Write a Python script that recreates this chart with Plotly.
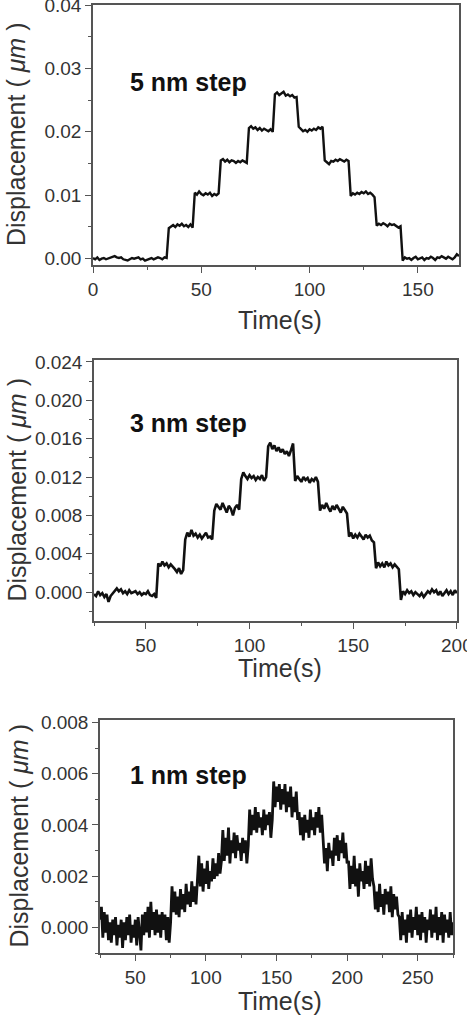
import numpy as np
import plotly.graph_objects as go

# ---------------- DATA ----------------
# Panel 1: 5 nm steps, sampled every 1 s from t = 0 s
p1_t_start = 0
p1_t_step = 1
p1_disp_um = [
    0.0001, -0.0001, 0.0002, -0.0002, 0.0000, 0.0001, -0.0001, 0.0000, 0.0002, 0.0003,
    0.0004, 0.0002, 0.0001, 0.0002, -0.0001, -0.0002, -0.0003, -0.0001, 0.0001, 0.0000,
    0.0001, 0.0002, -0.0001, 0.0000, -0.0003, -0.0002, 0.0000, 0.0001, -0.0001, 0.0000,
    0.0002, 0.0001, -0.0001, 0.0002, 0.0001,
    0.0048, 0.0051, 0.0053, 0.0050, 0.0054, 0.0052, 0.0055, 0.0051, 0.0053, 0.0050, 0.0054, 0.0049,
    0.0104, 0.0101, 0.0106, 0.0102, 0.0100, 0.0103, 0.0101, 0.0104, 0.0099, 0.0102, 0.0100, 0.0103,
    0.0155, 0.0157, 0.0153, 0.0156, 0.0152, 0.0155, 0.0154, 0.0151, 0.0154, 0.0152, 0.0155, 0.0153, 0.0151,
    0.0206, 0.0209, 0.0205, 0.0207, 0.0203, 0.0206, 0.0202, 0.0205, 0.0203, 0.0201, 0.0204, 0.0200,
    0.0259, 0.0262, 0.0258, 0.0261, 0.0263, 0.0257, 0.0259, 0.0256, 0.0258, 0.0254, 0.0255,
    0.0208, 0.0204, 0.0201, 0.0203, 0.0200, 0.0204, 0.0202, 0.0205, 0.0203, 0.0207, 0.0205, 0.0208,
    0.0155, 0.0152, 0.0149, 0.0154, 0.0153, 0.0156, 0.0154, 0.0157, 0.0155, 0.0153, 0.0156, 0.0154,
    0.0099, 0.0103, 0.0101, 0.0104, 0.0102, 0.0105, 0.0103, 0.0106, 0.0102, 0.0104, 0.0101, 0.0097,
    0.0052, 0.0055, 0.0053, 0.0056, 0.0054, 0.0051, 0.0055, 0.0053, 0.0054, 0.0052, 0.0049, 0.0051,
    -0.0003, 0.0002, 0.0000, 0.0001, -0.0002, 0.0001, 0.0003, -0.0001, 0.0000, 0.0002,
    -0.0002, 0.0001, 0.0000, 0.0003, 0.0001, -0.0002, 0.0002, 0.0001, 0.0004, 0.0002,
    0.0000, 0.0003, 0.0001, -0.0001, 0.0002, 0.0007, 0.0004,
]

# Panel 2: 3 nm steps, sampled every 1 s from t = 25 s
p2_t_start = 25
p2_t_step = 1
p2_disp_um = [
    -0.0002, -0.0004, 0.0001, -0.0003, -0.0001, -0.0005, -0.0002, -0.0010, -0.0004, -0.0001,
    0.0002, 0.0004, 0.0001, 0.0003, -0.0001, 0.0001, -0.0002, 0.0002, -0.0001, 0.0000,
    0.0001, -0.0002, 0.0000, -0.0003, -0.0001, -0.0002, 0.0001, -0.0003, -0.0004, -0.0002, -0.0006,
    0.0030, 0.0027, 0.0032, 0.0028, 0.0030, 0.0026, 0.0029, 0.0027, 0.0024, 0.0021, 0.0025, 0.0019, 0.0023,
    0.0055, 0.0062, 0.0058, 0.0065, 0.0059, 0.0061, 0.0057, 0.0060, 0.0056, 0.0059, 0.0062, 0.0057, 0.0058, 0.0055,
    0.0085, 0.0092, 0.0089, 0.0086, 0.0093, 0.0088, 0.0083, 0.0090, 0.0087, 0.0080, 0.0088, 0.0091, 0.0086,
    0.0118, 0.0125, 0.0121, 0.0118, 0.0122, 0.0119, 0.0121, 0.0117, 0.0120, 0.0118, 0.0122, 0.0116, 0.0120,
    0.0152, 0.0156, 0.0149, 0.0153, 0.0147, 0.0151, 0.0146, 0.0149, 0.0144, 0.0147, 0.0142, 0.0148, 0.0155,
    0.0116, 0.0121, 0.0118, 0.0115, 0.0120, 0.0117, 0.0119, 0.0114, 0.0118, 0.0116, 0.0120, 0.0115,
    0.0085, 0.0091, 0.0087, 0.0093, 0.0088, 0.0084, 0.0090, 0.0086, 0.0091, 0.0087, 0.0083, 0.0089, 0.0085, 0.0082,
    0.0058, 0.0062, 0.0056, 0.0060, 0.0057, 0.0061, 0.0058, 0.0055, 0.0060, 0.0057, 0.0059, 0.0054, 0.0052,
    0.0025, 0.0031, 0.0027, 0.0030, 0.0026, 0.0032, 0.0028, 0.0030, 0.0026, 0.0029, 0.0027, 0.0024,
    -0.0008, 0.0001, -0.0002, 0.0002, -0.0001, 0.0001, -0.0003, 0.0000, -0.0002, -0.0004,
    -0.0001, -0.0005, -0.0002, 0.0001, -0.0001, 0.0003, 0.0000, 0.0002, -0.0003, 0.0001,
    -0.0004, -0.0001, 0.0002, -0.0002, 0.0001, -0.0003, 0.0002, -0.0001,
]

# Panel 3: 1 nm steps, sampled every 1 s from t = 25 s
p3_t_start = 25
p3_t_step = 1
p3_disp_um = [
    0.0003, 0.0008, -0.0004, 0.0006, -0.0002, 0.0005, -0.0005, 0.0002, -0.0006, 0.0003,
    -0.0003, 0.0004, -0.0007, 0.0001, -0.0004, 0.0003, -0.0008, 0.0002, -0.0005, 0.0004,
    -0.0003, 0.0005, -0.0006, 0.0001, -0.0004, 0.0003, -0.0007, 0.0004, -0.0002, -0.0009,
    0.0005, -0.0003, 0.0006, -0.0002, 0.0008, -0.0004, 0.0010, -0.0001, 0.0006, -0.0003,
    0.0007, -0.0002, 0.0005, -0.0004, 0.0006, -0.0001, 0.0005, -0.0005, 0.0004, -0.0006, 0.0002,
    0.0016, 0.0006, 0.0014, 0.0005, 0.0012, 0.0004, 0.0015, 0.0007, 0.0013, 0.0006,
    0.0017, 0.0009, 0.0014, 0.0008, 0.0018, 0.0010, 0.0016, 0.0009, 0.0019,
    0.0028, 0.0016, 0.0025, 0.0014, 0.0023, 0.0017, 0.0026, 0.0015, 0.0022, 0.0018,
    0.0027, 0.0019, 0.0025, 0.0020, 0.0029, 0.0021, 0.0026,
    0.0038, 0.0026, 0.0035, 0.0028, 0.0039, 0.0025, 0.0034, 0.0029, 0.0037, 0.0027,
    0.0036, 0.0030, 0.0033, 0.0026, 0.0035, 0.0029, 0.0034, 0.0025, 0.0032,
    0.0046, 0.0036, 0.0044, 0.0038, 0.0047, 0.0037, 0.0045, 0.0039, 0.0043, 0.0036,
    0.0046, 0.0038, 0.0044, 0.0040, 0.0045, 0.0035, 0.0042,
    0.0057, 0.0047, 0.0055, 0.0049, 0.0056, 0.0046, 0.0054, 0.0048, 0.0056, 0.0045,
    0.0053, 0.0047, 0.0055, 0.0043, 0.0051, 0.0045, 0.0053, 0.0042,
    0.0045, 0.0036, 0.0043, 0.0034, 0.0044, 0.0037, 0.0042, 0.0035, 0.0046, 0.0038,
    0.0043, 0.0036, 0.0045, 0.0039, 0.0047, 0.0037, 0.0044,
    0.0034, 0.0025, 0.0031, 0.0022, 0.0033, 0.0027, 0.0030, 0.0024, 0.0035, 0.0028,
    0.0036, 0.0026, 0.0034, 0.0029, 0.0037, 0.0027, 0.0033, 0.0025,
    0.0026, 0.0015, 0.0024, 0.0017, 0.0028, 0.0016, 0.0023, 0.0012, 0.0025, 0.0018,
    0.0022, 0.0015, 0.0026, 0.0017, 0.0024, 0.0016, 0.0027, 0.0019,
    0.0016, 0.0007, 0.0014, 0.0006, 0.0017, 0.0008, 0.0013, 0.0005, 0.0015, 0.0009,
    0.0014, 0.0006, 0.0016, 0.0004, 0.0013, 0.0007, 0.0012, 0.0005,
    0.0004, -0.0005, 0.0006, -0.0003, 0.0003, -0.0006, 0.0005, -0.0002, 0.0007, -0.0004,
    0.0004, -0.0001, 0.0008, -0.0003, 0.0005, -0.0005, 0.0006, -0.0002, 0.0004, -0.0006,
    0.0003, -0.0001, 0.0007, -0.0004, 0.0005, -0.0002, 0.0008, -0.0005, 0.0004, -0.0003,
    0.0006, -0.0006, 0.0005, -0.0002, 0.0003, -0.0004, 0.0006, -0.0003, 0.0002,
]

panel_labels = ["5 nm step", "3 nm step", "1 nm step"]
x_title = "Time(s)"
y_title = "Displacement ( <i>μm</i> )"

# ---------------- FIGURE ----------------
W, H = 467, 1015
FONT = "Arial, Liberation Sans, Helvetica, sans-serif"
AXC = "#555555"
TXC = "#333333"

def dom_x(l, r):
    return [l / W, r / W]

def dom_y(top, bottom):
    return [1 - bottom / H, 1 - top / H]

panels = [
    dict(t0=p1_t_start, dt=p1_t_step, y=p1_disp_um, xd=(93, 459), yd=(5, 265),
         xr=[0, 169], yr=[-0.001, 0.04], ydt=0.01, ymdt=0.005, yfmt=".2f",
         lab_y=82, xt_y=320, yt_x=16, lw=2.4),
    dict(t0=p2_t_start, dt=p2_t_step, y=p2_disp_um, xd=(94, 457), yd=(360, 621),
         xr=[25, 200.05], yr=[-0.003, 0.0242], ydt=0.004, ymdt=0.002, yfmt=".3f",
         lab_y=423, xt_y=668, yt_x=16, lw=2.6),
    dict(t0=p3_t_start, dt=p3_t_step, y=p3_disp_um, xd=(100, 453), yd=(720, 953),
         xr=[25, 275], yr=[-0.001, 0.0081], ydt=0.002, ymdt=0.001, yfmt=".3f",
         lab_y=775, xt_y=1001, yt_x=18, lw=2.8),
]

fig = go.Figure()
annotations = []
for i, p in enumerate(panels, start=1):
    sfx = "" if i == 1 else str(i)
    t = p["t0"] + np.arange(len(p["y"])) * p["dt"]
    fig.add_trace(go.Scatter(
        x=t, y=p["y"], mode="lines",
        line=dict(color="#111111", width=p["lw"]),
        xaxis="x" + sfx, yaxis="y" + sfx, showlegend=False,
        hoverinfo="skip",
    ))
    common = dict(
        showline=True, linecolor=AXC, linewidth=1.5, mirror=True,
        ticks="outside", ticklen=6, tickwidth=1.2, tickcolor=AXC,
        tickfont=dict(family=FONT, size=19, color=TXC),
        showgrid=False, zeroline=False, ticklabeloverflow="allow",
        automargin=False,
    )
    fig.update_layout(**{
        "xaxis" + sfx: dict(
            domain=dom_x(*p["xd"]), range=p["xr"], anchor="y" + sfx,
            tick0=0, dtick=50,
            minor=dict(ticks="outside", ticklen=3, tickcolor=AXC, dtick=25, tick0=0),
            **common,
        ),
        "yaxis" + sfx: dict(
            domain=dom_y(*p["yd"]), range=p["yr"], anchor="x" + sfx,
            tick0=0, dtick=p["ydt"], tickformat=p["yfmt"],
            minor=dict(ticks="outside", ticklen=3, tickcolor=AXC, dtick=p["ymdt"], tick0=0),
            **common,
        ),
    })
    # panel label
    annotations.append(dict(
        text="<b>%s</b>" % panel_labels[i - 1], xref="paper", yref="paper",
        x=128 / W, y=1 - p["lab_y"] / H, xanchor="left", yanchor="middle",
        showarrow=False, font=dict(family=FONT, size=25, color="#111111"),
    ))
    # x axis title
    annotations.append(dict(
        text=x_title, xref="paper", yref="paper",
        x=280 / W, y=1 - p["xt_y"] / H, xanchor="center", yanchor="middle",
        showarrow=False, font=dict(family=FONT, size=25, color=TXC),
    ))
    # y axis title
    ymid = (p["yd"][0] + p["yd"][1]) / 2
    annotations.append(dict(
        text=y_title, xref="paper", yref="paper", textangle=-90,
        x=p["yt_x"] / W, y=1 - ymid / H, xanchor="center", yanchor="middle",
        showarrow=False, font=dict(family=FONT, size=25, color=TXC),
    ))

fig.update_layout(
    width=W, height=H, autosize=False,
    margin=dict(l=0, r=0, t=0, b=0, autoexpand=False),
    paper_bgcolor="white", plot_bgcolor="white",
    annotations=annotations,
)

page_fix = (
    "document.body.style.margin='0';"
    "document.body.style.overflow='hidden';"
    "document.documentElement.style.overflow='hidden';"
)

fig.write_html("out.html", post_script=page_fix)
